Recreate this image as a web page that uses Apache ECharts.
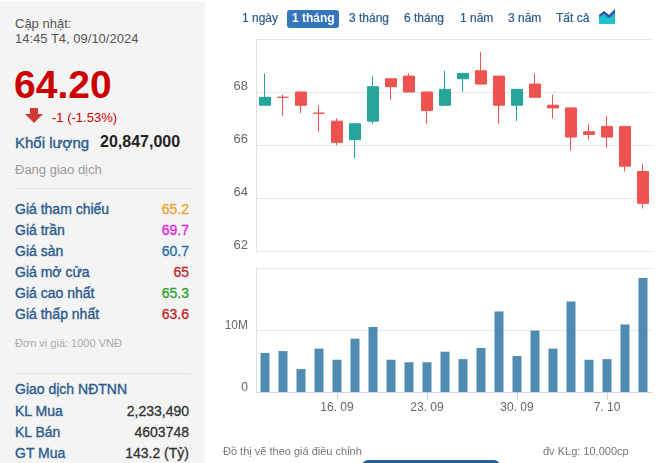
<!DOCTYPE html>
<html><head><meta charset="utf-8">
<script src="https://cdn.jsdelivr.net/npm/echarts@6/dist/echarts.min.js"></script>
<style>
html,body{margin:0;padding:0;width:657px;height:463px;overflow:hidden;background:#fff;font-family:"Liberation Sans",Arial,sans-serif;}
#left{position:absolute;left:0;top:2px;width:205px;height:461px;background:#f4f4f4;}
.t{position:absolute;white-space:nowrap;line-height:1;}
.r{position:absolute;white-space:nowrap;line-height:1;right:16px;text-align:right;-webkit-text-stroke:0.3px currentColor;}
.lbl{font-size:14px;color:#2b5a8e;left:15px;-webkit-text-stroke:0.35px currentColor;}
.sep{position:absolute;left:15px;width:175px;height:1px;background:#e4e4e4;}
.btn{position:absolute;top:12px;font-size:12px;color:#2b5a8e;line-height:1;white-space:nowrap;-webkit-text-stroke:0.2px currentColor;}
#chart{position:absolute;left:205px;top:0;width:452px;height:463px;}
</style></head>
<body>
<div id="left">
  <div class="t" style="left:15px;top:15px;font-size:13px;color:#555;">Cập nhật:</div>
  <div class="t" style="left:15px;top:30px;font-size:13px;color:#555;">14:45 T4, 09/10/2024</div>
  <div class="t" style="left:14px;top:63px;font-size:39px;font-weight:bold;color:#cc0000;">64.20</div>
  <svg style="position:absolute;left:25px;top:106px" width="18" height="16" viewBox="0 0 18 16">
    <rect x="5" y="0" width="8" height="7" fill="#d23a3a"/>
    <polygon points="0,6 18,6 9,15" fill="#d23a3a"/>
  </svg>
  <div class="t" style="left:52px;top:109px;font-size:13px;color:#cc0000;">-1 (-1.53%)</div>
  <div class="t" style="left:15px;top:133px;font-size:15px;color:#2b5a8e;-webkit-text-stroke:0.35px currentColor;">Khối lượng</div>
  <div class="t" style="left:100px;top:132px;font-size:16px;font-weight:bold;color:#222;">20,847,000</div>
  <div class="t" style="left:15px;top:161px;font-size:13px;color:#999;">Đang giao dịch</div>
  <div class="sep" style="top:186px;"></div>
  <div class="t lbl" style="top:200px;">Giá tham chiếu</div><div class="r" style="top:200px;font-size:14px;color:#f0a030;">65.2</div>
  <div class="t lbl" style="top:221px;">Giá trần</div><div class="r" style="top:221px;font-size:14px;color:#e01ee0;">69.7</div>
  <div class="t lbl" style="top:242px;">Giá sàn</div><div class="r" style="top:242px;font-size:14px;color:#1d6fa5;">60.7</div>
  <div class="t lbl" style="top:263px;">Giá mở cửa</div><div class="r" style="top:263px;font-size:14px;color:#c0262d;">65</div>
  <div class="t lbl" style="top:284px;">Giá cao nhất</div><div class="r" style="top:284px;font-size:14px;color:#2fa52f;">65.3</div>
  <div class="t lbl" style="top:305px;">Giá thấp nhất</div><div class="r" style="top:305px;font-size:14px;color:#c0262d;">63.6</div>
  <div class="t" style="left:15px;top:336px;font-size:11px;color:#aaa;">Đơn vị giá: 1000 VNĐ</div>
  <div class="sep" style="top:371px;"></div>
  <div class="t lbl" style="top:380px;">Giao dịch NĐTNN</div>
  <div class="t lbl" style="top:402px;">KL Mua</div><div class="r" style="top:402px;font-size:14px;color:#333;">2,233,490</div>
  <div class="t lbl" style="top:423px;">KL Bán</div><div class="r" style="top:423px;font-size:14px;color:#333;">4603748</div>
  <div class="t lbl" style="top:444px;">GT Mua</div><div class="r" style="top:444px;font-size:14px;color:#333;">143.2 (Tỷ)</div>
</div>

<div id="chart"></div>

<div class="btn" style="left:242px;">1 ngày</div>
<div style="position:absolute;left:287px;top:10px;width:52px;height:18px;background:#3475bb;border-radius:3px;"></div>
<div class="btn" style="left:292px;color:#fff;font-weight:bold;-webkit-text-stroke:0;">1 tháng</div>
<div class="btn" style="left:349px;">3 tháng</div>
<div class="btn" style="left:404px;">6 tháng</div>
<div class="btn" style="left:460px;">1 năm</div>
<div class="btn" style="left:508px;">3 năm</div>
<div class="btn" style="left:556px;">Tất cả</div>
<svg style="position:absolute;left:599px;top:9px" width="16" height="15" viewBox="0 0 16 15">
  <defs><linearGradient id="g" x1="0" y1="0" x2="0" y2="1"><stop offset="0" stop-color="#20b5d0"/><stop offset="1" stop-color="#1ec8c8"/></linearGradient></defs>
  <polygon points="0,15 0,6 5,2 10,6 16,0 16,15" fill="url(#g)"/>
  <polygon points="0,8 0,6 5,2 10,6 16,0 16,4 10,9 5,5" fill="#3a4fa8"/>
</svg>

<div class="t" style="left:223px;top:446px;font-size:11px;color:#777;">Đồ thị vẽ theo giá điều chỉnh</div>
<div class="t" style="left:543px;top:446px;font-size:11px;color:#777;">đv KLg: 10,000cp</div>
<div style="position:absolute;left:362px;top:460px;width:138px;height:12px;background:#2d5c94;border-radius:8px;"></div>

<script>
// Trading days 10.09 -> 09.10.2024
const dates = ["10. 09","11. 09","12. 09","13. 09","16. 09","17. 09","18. 09","19. 09","20. 09",
  "23. 09","24. 09","25. 09","26. 09","27. 09","30. 09","1. 10","2. 10","3. 10","4. 10",
  "7. 10","8. 10","9. 10"];
const labelDates = ["16. 09","23. 09","30. 09","7. 10"];
const openP  = [67.5,67.8,68.0,67.2,66.9,66.2,66.9,68.5,68.6,68.0,67.5,68.5,68.8,68.6,67.5,68.3,67.5,67.4,66.5,66.7,66.7,65.0];
const closeP = [67.8,67.8,67.5,67.2,66.1,66.8,68.2,68.2,68.0,67.3,68.1,68.7,68.3,67.5,68.1,67.8,67.4,66.3,66.4,66.3,65.2,63.8];
const lowP   = [67.5,67.1,67.2,66.5,66.0,65.5,66.8,67.7,68.0,66.8,67.5,68.0,68.3,66.8,66.9,67.8,67.0,65.8,66.2,65.9,65.0,63.6];
const highP  = [68.7,67.9,68.0,67.5,67.0,66.8,68.6,68.5,68.7,68.0,68.8,68.7,69.5,68.6,68.1,68.7,67.9,67.4,66.8,67.1,66.7,65.3];
const volumeM = [6.3,6.6,3.7,7.0,5.2,8.6,10.5,5.2,4.8,4.8,6.5,5.3,7.1,13.0,5.8,9.9,7.0,14.6,5.2,5.3,10.9,18.4];
const priceTicks = [62,64,66,68,70];
const volTicks = [0,10,20];

const UP = '#26a69a', DOWN = '#ef5350';
const candleData = dates.map((d,i)=>{
  const item = {value:[openP[i],closeP[i],lowP[i],highP[i]]};
  if (closeP[i] === openP[i]) item.itemStyle = {color:DOWN,borderColor:DOWN,color0:DOWN,borderColor0:DOWN};
  return item;
});
const showIdx = i => labelDates.indexOf(dates[i]) >= 0;

const chart = echarts.init(document.getElementById('chart'), null, {renderer:'canvas'});
chart.setOption({
  animation:false,
  grid:[
    {left:51, top:39, width:396, height:212},
    {left:51, top:268, width:396, height:124}
  ],
  xAxis:[
    {type:'category', gridIndex:0, data:dates, boundaryGap:true,
     axisLine:{show:false}, axisTick:{show:false}, axisLabel:{show:false}, splitLine:{show:false}},
    {type:'category', gridIndex:1, data:dates, boundaryGap:true,
     axisLine:{show:true, lineStyle:{color:'#ccd6eb'}},
     axisTick:{show:true, alignWithLabel:true, length:8, interval:(i)=>showIdx(i), lineStyle:{color:'#ccd6eb'}},
     axisLabel:{interval:(i)=>showIdx(i), color:'#666', fontSize:12, margin:10, fontFamily:'Liberation Sans, Arial'},
     splitLine:{show:false}}
  ],
  yAxis:[
    {type:'value', gridIndex:0, min:priceTicks[0], max:priceTicks[priceTicks.length-1], interval:priceTicks[1]-priceTicks[0],
     axisLine:{show:true, lineStyle:{color:'#e0e0e0'}}, axisTick:{show:false},
     axisLabel:{color:'#666', fontSize:13, margin:8, showMaxLabel:false, verticalAlign:'bottom', lineHeight:11, fontFamily:'Liberation Sans, Arial'},
     splitLine:{show:true, lineStyle:{color:'#e6e6e6'}}},
    {type:'value', gridIndex:1, min:volTicks[0], max:volTicks[volTicks.length-1], interval:volTicks[1]-volTicks[0],
     axisLine:{show:true, lineStyle:{color:'#e0e0e0'}}, axisTick:{show:false},
     axisLabel:{color:'#666', fontSize:12, margin:8, showMaxLabel:false, verticalAlign:'bottom', lineHeight:9, fontFamily:'Liberation Sans, Arial',
       formatter:v=> v===0 ? '0' : v+'M'},
     splitLine:{show:true, lineStyle:{color:'#e6e6e6'}}}
  ],
  series:[
    {type:'candlestick', xAxisIndex:0, yAxisIndex:0, data:candleData, barWidth:'60%',
     itemStyle:{color:UP, color0:DOWN, borderColor:UP, borderColor0:DOWN, borderWidth:1}},
    {type:'bar', xAxisIndex:1, yAxisIndex:1, data:volumeM, barWidth:'50%',
     itemStyle:{color:'#4f8cb0'}}
  ]
});
</script>
</body></html>
